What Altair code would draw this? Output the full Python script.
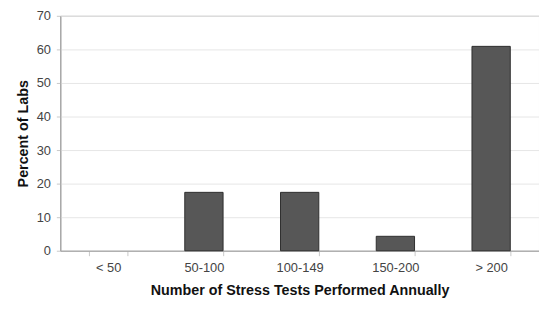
import altair as alt
import pandas as pd

categories = ["< 50", "50-100", "100-149", "150-200", "> 200"]
percents = [0, 17.4, 17.4, 4.3, 60.9]

df = pd.DataFrame({"cat": categories, "pct": percents})

chart = alt.Chart(df).mark_bar(color="#575757", stroke="#2e2e2e", strokeWidth=1).encode(
    x=alt.X("cat:N", sort=categories,
            scale=alt.Scale(paddingInner=0.6, paddingOuter=0.3),
            axis=alt.Axis(title="Number of Stress Tests Performed Annually", labelAngle=0,
                          tickBand="extent", labelPadding=6, titlePadding=9)),
    y=alt.Y("pct:Q", scale=alt.Scale(domain=[0, 70]),
            axis=alt.Axis(title="Percent of Labs", values=list(range(0, 71, 10)),
                          labelPadding=6, titlePadding=6, tickSize=4)),
    strokeOpacity=alt.condition("datum.pct > 0", alt.value(1), alt.value(0)),
).properties(
    width=485, height=238,
    autosize=alt.AutoSizeParams(type="none"),
    padding={"left": 53, "top": 6, "right": 0, "bottom": 50},
).configure_axis(
    labelFont="Liberation Sans", labelFontSize=13, labelColor="#444444",
    titleFont="Liberation Sans", titleFontSize=14.5, titleFontWeight="bold", titleColor="#111111",
    domainColor="#a0a0a0", tickColor="#c8c8c8", tickSize=5, gridColor="#e6e6e6",
).configure_axisX(grid=False).configure_view(stroke="#a0a0a0", strokeWidth=1)

chart.save("out.html", embed_options={"renderer": "svg", "actions": False})
